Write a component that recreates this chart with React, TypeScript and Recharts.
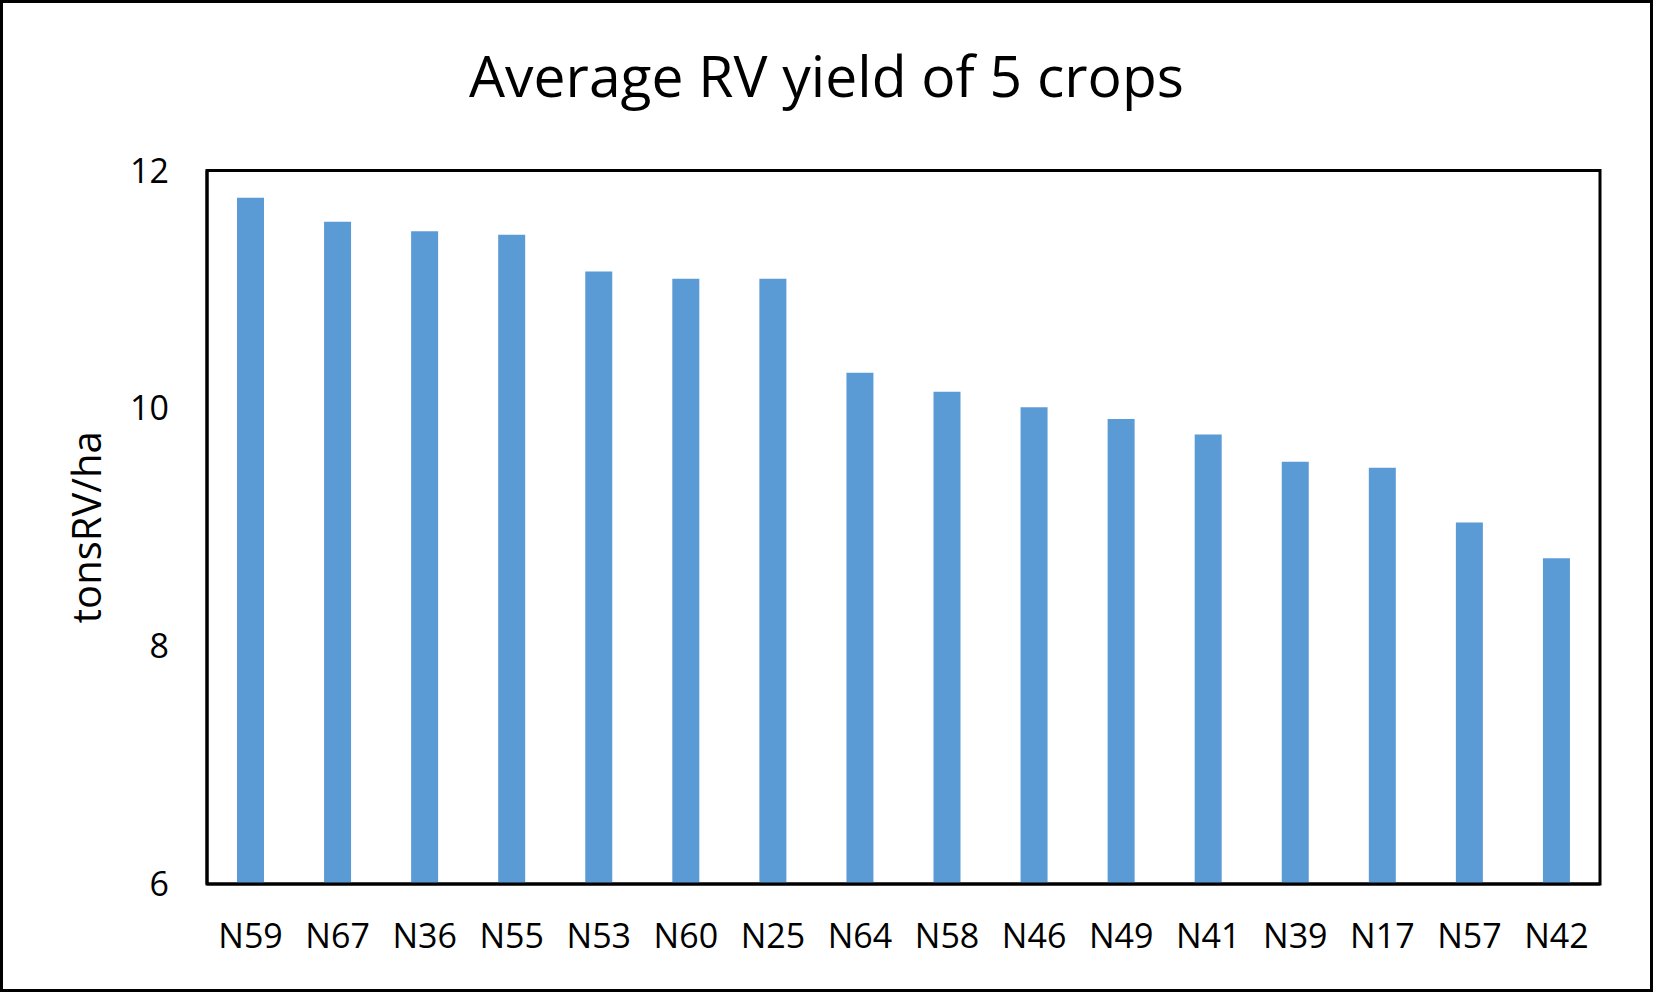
import { Bar, BarChart, Customized, ReferenceArea, XAxis, YAxis } from "recharts";

const lines = ["N59", "N67", "N36", "N55", "N53", "N60", "N25", "N64", "N58", "N46", "N49", "N41", "N39", "N17", "N57", "N42"];
const yieldValues = [11.77, 11.57, 11.49, 11.46, 11.15, 11.09, 11.09, 10.3, 10.14, 10.01, 9.91, 9.78, 9.55, 9.5, 9.04, 8.74];
const yTicks = [6, 8, 10, 12];

const data = lines.map((name, i) => ({ name, value: yieldValues[i] }));

const FONT = "'Open Sans', sans-serif";
const frame = { stroke: "#000", strokeWidth: 3 };

function Title() {
  return (
    <text x={826.5} y={97} textAnchor="middle" fontFamily={FONT} fontSize={57} fill="#000">
      Average RV yield of 5 crops
    </text>
  );
}

function YLabel({ viewBox }: any) {
  const cx = 101;
  const cy = viewBox.y + viewBox.height / 2;
  return (
    <text x={cx} y={cy} transform={`rotate(-90 ${cx} ${cy})`} textAnchor="middle" fontFamily={FONT} fontSize={40} fill="#000">
      tonsRV/ha
    </text>
  );
}

export default function App() {
  return (
    <div style={{ position: "absolute", left: 0, top: 0, width: 1653, height: 992, background: "#fff" }}>
      <BarChart width={1653} height={992} data={data} margin={{ top: 170.5, right: 53, bottom: 0, left: 0 }}>
        <XAxis
          dataKey="name"
          interval={0}
          height={108}
          tickLine={false}
          tickSize={0}
          tickMargin={40}
          axisLine={frame}
          tick={{ fill: "#000", fontSize: 34, fontFamily: FONT }}
        />
        <YAxis
          domain={[6, 12]}
          ticks={yTicks}
          width={207}
          tickLine={false}
          tickSize={0}
          tickMargin={38}
          axisLine={frame}
          tick={{ fill: "#000", fontSize: 34, fontFamily: FONT }}
          label={{ content: YLabel }}
        />
        <Bar dataKey="value" fill="#5B9BD5" barSize={27} isAnimationActive={false} />
        {/* plot-area box */}
        <ReferenceArea y1={6} y2={12} fill="none" fillOpacity={0} stroke="#000" strokeWidth={3} />
        <Customized component={Title} />
      </BarChart>
      <div
        style={{
          position: "absolute",
          left: 0,
          top: 0,
          width: 1653,
          height: 992,
          border: "3px solid #000",
          boxSizing: "border-box",
          pointerEvents: "none",
        }}
      />
    </div>
  );
}
